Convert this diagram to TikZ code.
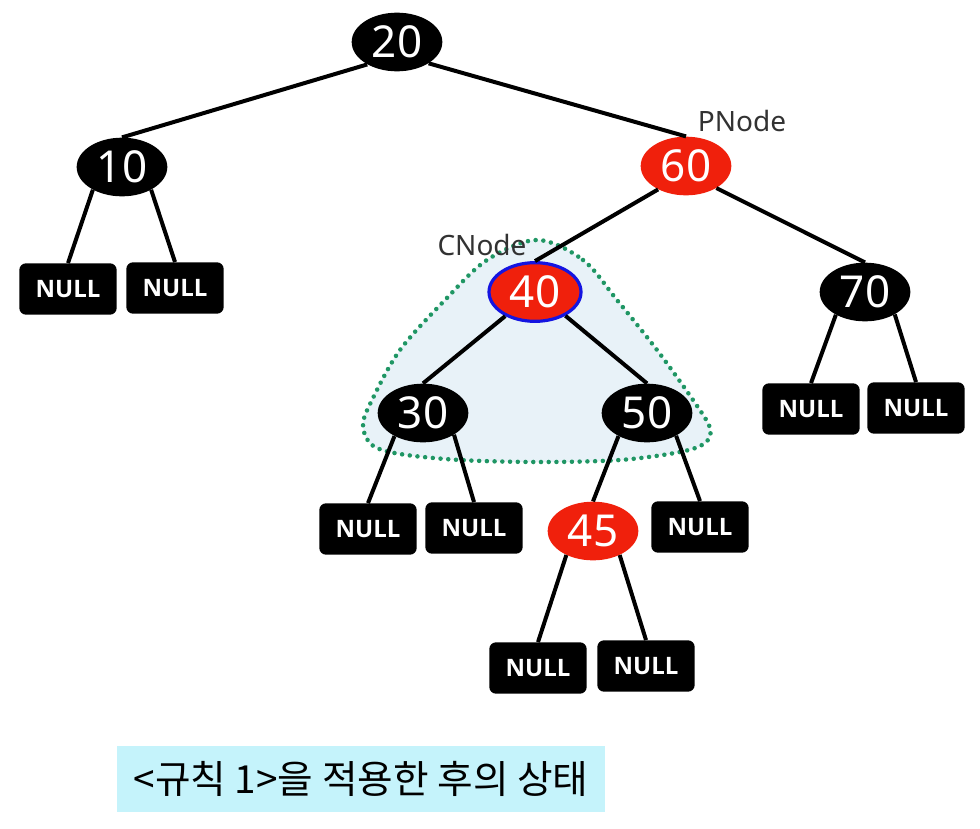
\documentclass[tikz,border=0pt]{standalone}
\usepackage{fontspec}
\setmainfont{Noto Sans}
\newfontfamily\krfont{Noto Sans CJK KR}
\newfontfamily\nilfont{Open Sans}
\usetikzlibrary{shapes.geometric}
\definecolor{rbred}{RGB}{240,32,12}
\definecolor{rbblue}{RGB}{20,20,225}
\definecolor{regionfill}{RGB}{232,242,248}
\definecolor{regiondot}{RGB}{31,150,100}
\definecolor{capfill}{RGB}{197,243,251}
\definecolor{lbl}{RGB}{50,50,50}
\tikzset{
  blacknode/.style={ellipse, fill=black, text=white, minimum width=68pt, minimum height=44pt, inner sep=0pt, font=\fontsize{33}{33}\selectfont},
  rednode/.style={blacknode, fill=rbred},
  nullbox/.style={rectangle, rounded corners=5pt, fill=black, text=white, minimum width=73pt, minimum height=38.5pt, inner sep=0pt, font=\nilfont\bfseries\fontsize{18}{18}\selectfont},
  edge/.style={line width=3pt, black},
  tag/.style={text=lbl, font=\fontsize{21}{21}\selectfont, inner sep=0pt},
}
\begin{document}
\begin{tikzpicture}[x=0.75pt,y=-0.75pt]
\useasboundingbox (0,0) rectangle (980,828);
% highlighted subtree region
\draw[fill=regionfill, draw=regiondot, line width=3.4pt, line cap=round, dash pattern=on 0pt off 5.8pt]
  plot[smooth cycle, tension=0.55] coordinates {
  (537,240) (583,260) (617,300) (657,350) (693,400) (710,428) (705,443) (680,452)
  (620,460) (540,462) (460,460) (400,454) (372,445) (363,425) (372,400) (400,350)
  (445,300) (487,260)};
% nodes
\node[blacknode] (n20) at (397,42) {20};
\node[blacknode] (n10) at (122,167) {10};
\node[rednode] (n60) at (686,166) {60};
\node[rednode, draw=rbblue, line width=2.4pt, minimum width=69pt, minimum height=44pt] (n40) at (535,292) {40};
\node[blacknode] (n70) at (865,292) {70};
\node[blacknode] (n30) at (423,413) {30};
\node[blacknode] (n50) at (647,413) {50};
\node[rednode] (n45) at (593,531) {45};
\node[nullbox] (u1) at (68,289) {NULL};
\node[nullbox] (u2) at (175,288) {NULL};
\node[nullbox] (u3) at (811,409) {NULL};
\node[nullbox] (u4) at (916,408) {NULL};
\node[nullbox] (u5) at (368,529) {NULL};
\node[nullbox] (u6) at (474,528) {NULL};
\node[nullbox] (u7) at (700,527) {NULL};
\node[nullbox] (u8) at (538,668) {NULL};
\node[nullbox] (u9) at (646,666) {NULL};
% labels
\node[tag] (pl) at (742,121) {PNode};
\node[tag] (cl) at (482,245) {CNode};
% edges
\draw[edge] (n20.217) -- (n10.north);
\draw[edge] (n20.326) -- (n60.north);
\draw[edge] (n10.218) -- (u1.north);
\draw[edge] (n10.322) -- (u2.north);
\draw[edge] (n60.220) -- (n40.north);
\draw[edge] (n60.324) -- (n70.north);
\draw[edge] (n40.219) -- (n30.north);
\draw[edge] (n40.322) -- (n50.north);
\draw[edge] (n70.218) -- (u3.north);
\draw[edge] (n70.323) -- (u4.north);
\draw[edge] (n30.219) -- (u5.north);
\draw[edge] (n30.325) -- (u6.north);
\draw[edge] (n50.219) -- (n45.north);
\draw[edge] (n50.322) -- (u7.north);
\draw[edge] (n45.222) -- (u8.north);
\draw[edge] (n45.318) -- (u9.north);
% caption
\node[rectangle, fill=capfill, minimum width=366pt, minimum height=49.5pt, inner sep=0pt,
  font=\krfont\fontsize{29}{29}\selectfont] (cap) at (361,779) {<규칙 1>을 적용한 후의 상태};
\end{tikzpicture}
\end{document}
